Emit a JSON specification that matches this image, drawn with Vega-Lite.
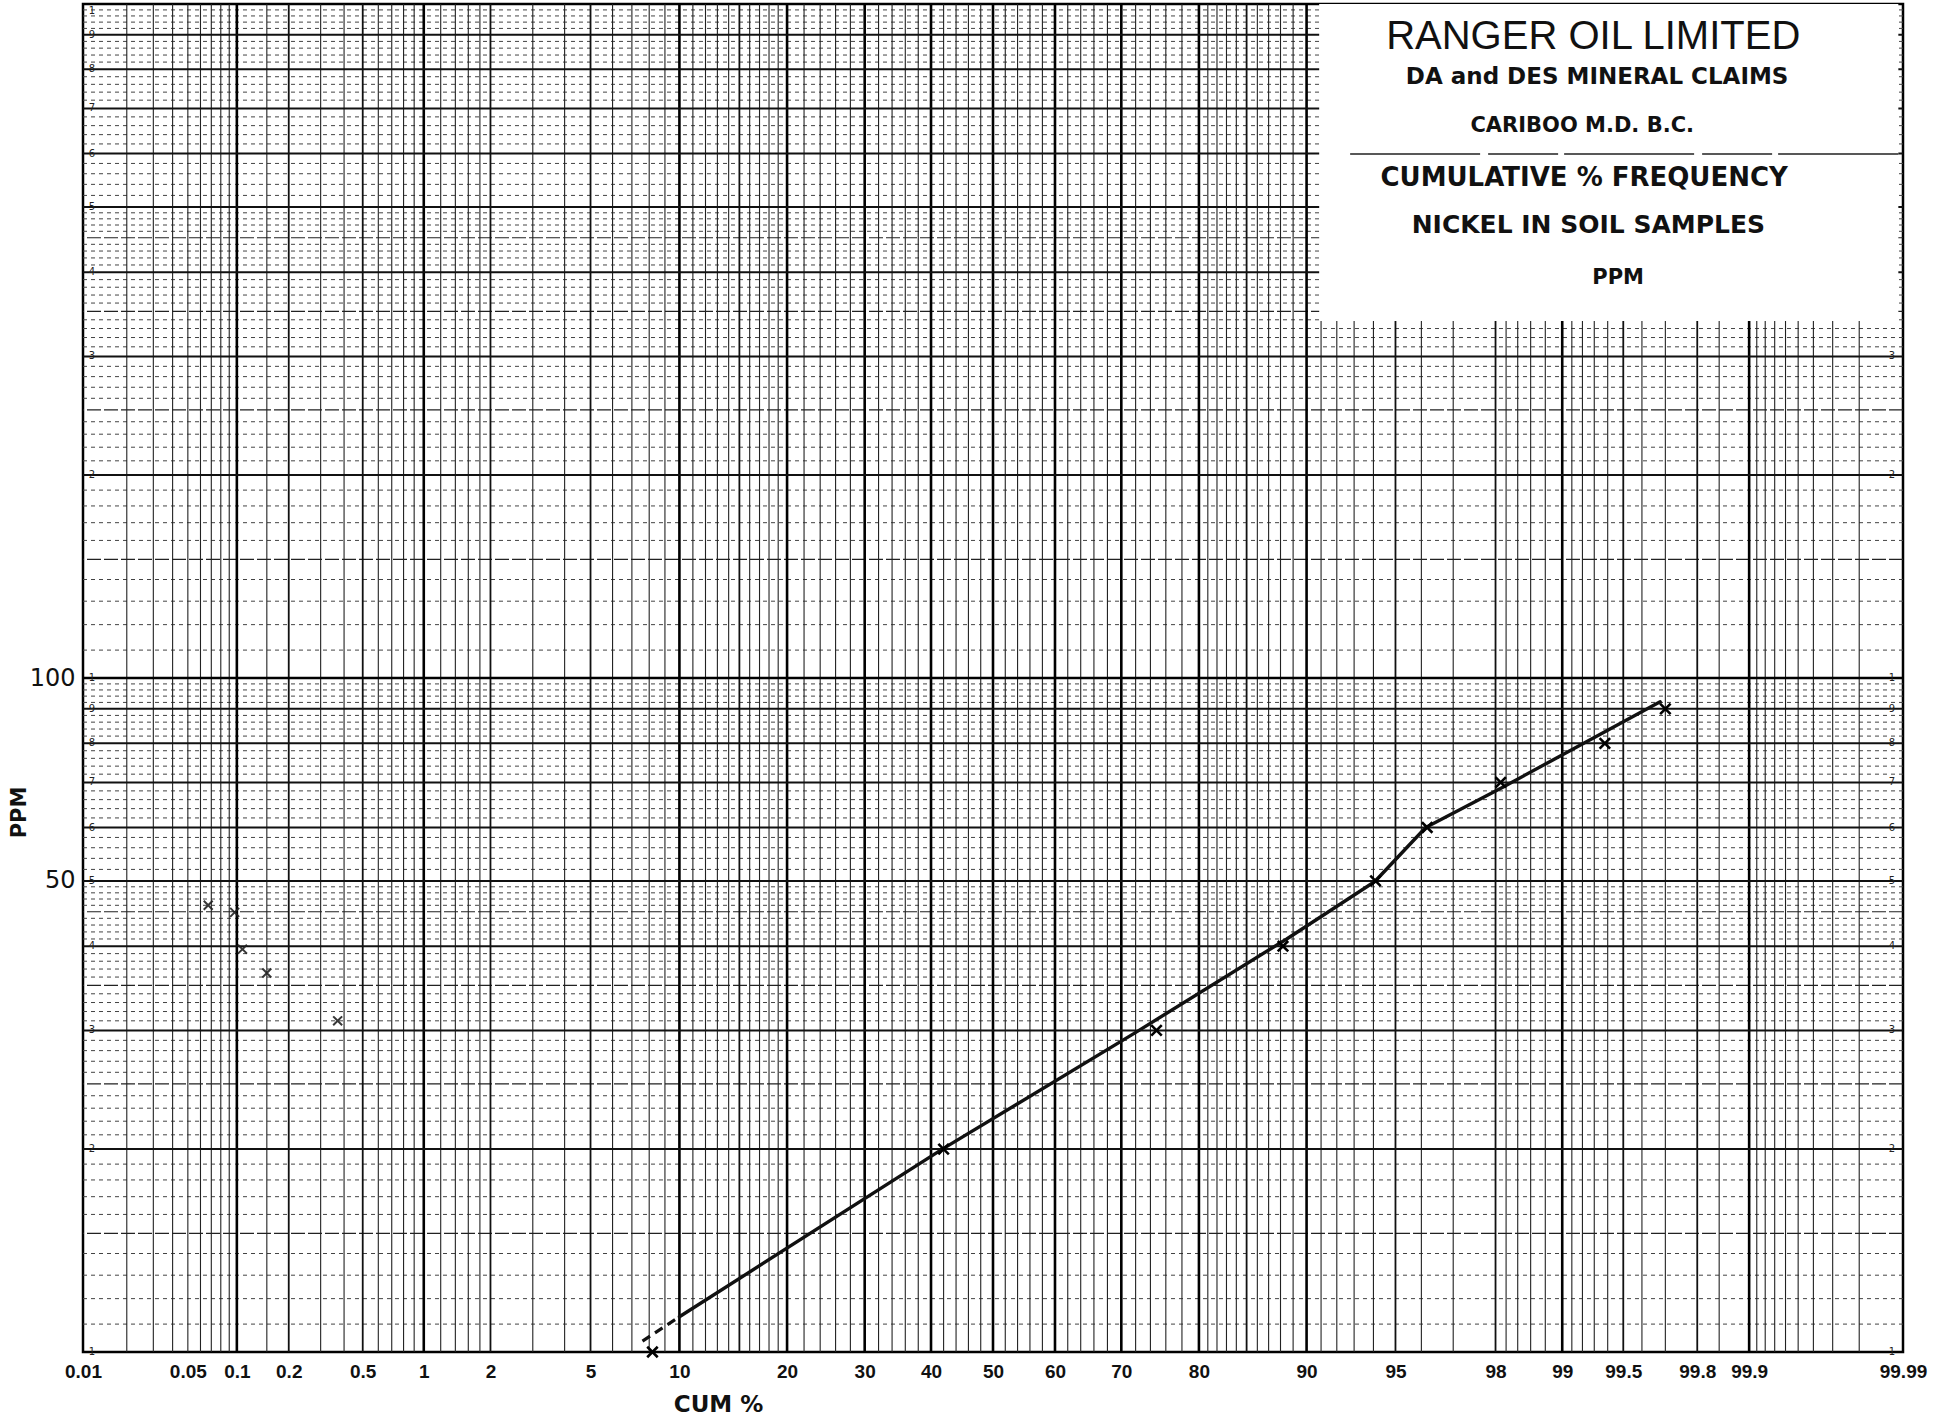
{
  "$schema": "https://vega.github.io/schema/vega-lite/v6.json",
  "width": 1820,
  "height": 1348,
  "autosize": {"type": "none"},
  "padding": {"left": 83, "top": 4, "right": 48, "bottom": 63},
  "background": "white",
  "config": {
    "view": {"stroke": "black", "strokeWidth": 2.5},
    "axis": {"grid": false, "ticks": false, "domain": false}
  },
  "resolve": {"axis": {"x": "independent", "y": "independent"}},
  "datasets": {
    "vMajor": [{"p":0.1},{"p":1},{"p":10},{"p":20},{"p":30},{"p":40},{"p":50},{"p":60},{"p":70},{"p":80},{"p":90},{"p":99},{"p":99.9}],
    "vMid": [{"p":0.2},{"p":0.5},{"p":2},{"p":5},{"p":15},{"p":85},{"p":95},{"p":98},{"p":99.5},{"p":99.8}],
    "vMinor": [{"p":0.02},{"p":0.03},{"p":0.04},{"p":0.05},{"p":0.06},{"p":0.07},{"p":0.08},{"p":0.09},{"p":0.15},{"p":0.3},{"p":0.4},{"p":0.6},{"p":0.7},{"p":0.8},{"p":0.9},{"p":1.2},{"p":1.4},{"p":1.6},{"p":1.8},{"p":3},{"p":4},{"p":6},{"p":7},{"p":8},{"p":9},{"p":11},{"p":12},{"p":13},{"p":14},{"p":16},{"p":17},{"p":18},{"p":19},{"p":22},{"p":24},{"p":26},{"p":28},{"p":32},{"p":34},{"p":36},{"p":38},{"p":42},{"p":44},{"p":46},{"p":48},{"p":52},{"p":54},{"p":56},{"p":58},{"p":62},{"p":64},{"p":66},{"p":68},{"p":72},{"p":74},{"p":76},{"p":78},{"p":81},{"p":82},{"p":83},{"p":84},{"p":86},{"p":87},{"p":88},{"p":89},{"p":91},{"p":92},{"p":93},{"p":94},{"p":96},{"p":97},{"p":98.2},{"p":98.4},{"p":98.6},{"p":98.8},{"p":99.1},{"p":99.2},{"p":99.3},{"p":99.4},{"p":99.6},{"p":99.7},{"p":99.85},{"p":99.91},{"p":99.92},{"p":99.93},{"p":99.94},{"p":99.95},{"p":99.96},{"p":99.97},{"p":99.98}],
    "hDecade": [{"ppm":100}],
    "hInteger": [{"ppm":20},{"ppm":30},{"ppm":40},{"ppm":50},{"ppm":60},{"ppm":70},{"ppm":80},{"ppm":90},{"ppm":200},{"ppm":300},{"ppm":400},{"ppm":500},{"ppm":600},{"ppm":700},{"ppm":800},{"ppm":900}],
    "hMid": [{"ppm":15},{"ppm":25},{"ppm":35},{"ppm":45},{"ppm":150},{"ppm":250},{"ppm":350},{"ppm":450}],
    "hMinor": [{"ppm":11},{"ppm":12},{"ppm":13},{"ppm":14},{"ppm":16},{"ppm":17},{"ppm":18},{"ppm":19},{"ppm":21},{"ppm":22},{"ppm":23},{"ppm":24},{"ppm":26},{"ppm":27},{"ppm":28},{"ppm":29},{"ppm":31},{"ppm":32},{"ppm":33},{"ppm":34},{"ppm":36},{"ppm":37},{"ppm":38},{"ppm":39},{"ppm":41},{"ppm":42},{"ppm":43},{"ppm":44},{"ppm":46},{"ppm":47},{"ppm":48},{"ppm":49},{"ppm":52},{"ppm":54},{"ppm":56},{"ppm":58},{"ppm":62},{"ppm":64},{"ppm":66},{"ppm":68},{"ppm":72},{"ppm":74},{"ppm":76},{"ppm":78},{"ppm":82},{"ppm":84},{"ppm":86},{"ppm":88},{"ppm":92},{"ppm":94},{"ppm":96},{"ppm":98},{"ppm":110},{"ppm":120},{"ppm":130},{"ppm":140},{"ppm":160},{"ppm":170},{"ppm":180},{"ppm":190},{"ppm":210},{"ppm":220},{"ppm":230},{"ppm":240},{"ppm":260},{"ppm":270},{"ppm":280},{"ppm":290},{"ppm":310},{"ppm":320},{"ppm":330},{"ppm":340},{"ppm":360},{"ppm":370},{"ppm":380},{"ppm":390},{"ppm":410},{"ppm":420},{"ppm":430},{"ppm":440},{"ppm":460},{"ppm":470},{"ppm":480},{"ppm":490},{"ppm":520},{"ppm":540},{"ppm":560},{"ppm":580},{"ppm":620},{"ppm":640},{"ppm":660},{"ppm":680},{"ppm":720},{"ppm":740},{"ppm":760},{"ppm":780},{"ppm":820},{"ppm":840},{"ppm":860},{"ppm":880},{"ppm":920},{"ppm":940},{"ppm":960},{"ppm":980}],
    "digits": [{"ppm":10,"d":"1"},{"ppm":20,"d":"2"},{"ppm":30,"d":"3"},{"ppm":40,"d":"4"},{"ppm":50,"d":"5"},{"ppm":60,"d":"6"},{"ppm":70,"d":"7"},{"ppm":80,"d":"8"},{"ppm":90,"d":"9"},{"ppm":100,"d":"1"},{"ppm":200,"d":"2"},{"ppm":300,"d":"3"},{"ppm":400,"d":"4"},{"ppm":500,"d":"5"},{"ppm":600,"d":"6"},{"ppm":700,"d":"7"},{"ppm":800,"d":"8"},{"ppm":900,"d":"9"}],
    "topDigit": [{"ppm":1000,"d":"1"}],
    "points": [{"p":8.2,"ppm":10},{"p":42,"ppm":20},{"p":74.8,"ppm":30},{"p":88.2,"ppm":40},{"p":94.1,"ppm":50},{"p":96.2,"ppm":60},{"p":98.1,"ppm":70},{"p":99.38,"ppm":80},{"p":99.7,"ppm":90}],
    "stray": [{"p":0.067,"ppm":46},{"p":0.097,"ppm":44.9},{"p":0.108,"ppm":39.6},{"p":0.15,"ppm":36.5},{"p":0.37,"ppm":31}],
    "fit": [{"p":10,"ppm":11.28},{"p":41.8,"ppm":20},{"p":71.8,"ppm":29.7},{"p":88.5,"ppm":41},{"p":94.07,"ppm":49.9},{"p":96.15,"ppm":60},{"p":98.13,"ppm":68.8},{"p":99.68,"ppm":92.2}],
    "fitStart": [{"p":7.6,"ppm":10.38},{"p":10,"ppm":11.28}]
  },
  "layer": [
    {
      "data": {"name": "points"},
      "transform": [{"calculate": "quantileNormal(datum.p/100)", "as": "z"}],
      "mark": {"type": "point", "opacity": 0},
      "encoding": {
        "x": {"field": "z", "type": "quantitative",
          "scale": {"domain": [-3.719016, 3.719016], "nice": false, "zero": false},
          "axis": {
            "values": [-3.719, -3.2905, -3.0902, -2.8782, -2.5758, -2.3263, -2.0537, -1.6449, -1.2816, -0.8416, -0.5244, -0.2533, 0, 0.2533, 0.5244, 0.8416, 1.2816, 1.6449, 2.0537, 2.3263, 2.5758, 2.8782, 3.0902, 3.719],
            "labelExpr": "toString(round(cumulativeNormal(datum.value)*10000)/100)",
            "labelFont": "Liberation Sans", "labelFontWeight": "bold", "labelFontSize": 19, "labelColor": "#111",
            "labelBaseline": "top", "labelPadding": 10, "labelAlign": "center",
            "labelFlush": false, "labelOverlap": false, "labelBound": false,
            "title": "CUM %", "titleFont": "DejaVu Sans", "titleFontWeight": "bold", "titleFontSize": 23, "titleColor": "#111",
            "titleX": 635, "titleY": 59, "titleBaseline": "alphabetic", "titleAlign": "center"
          }
        },
        "y": {"field": "ppm", "type": "quantitative",
          "scale": {"type": "log", "domain": [10, 1000], "nice": false},
          "axis": {
            "values": [50, 100], "format": "d",
            "labelFont": "DejaVu Sans", "labelFontSize": 24, "labelColor": "#111", "labelPadding": 8,
            "title": "PPM", "titleFont": "DejaVu Sans", "titleFontWeight": "bold", "titleFontSize": 21, "titleColor": "#111",
            "titleAngle": -90, "titleX": -64, "titleY": 808, "titleAlign": "center", "titleBaseline": "middle"
          }
        }
      }
    },
    {
      "data": {"name": "hMinor"},
      "mark": {"type": "rule", "color": "#444", "strokeWidth": 1, "strokeDash": [4, 4]},
      "encoding": {"y": {"field": "ppm", "type": "quantitative", "scale": {"type": "log", "domain": [10, 1000], "nice": false}, "axis": null}}
    },
    {
      "data": {"name": "hMid"},
      "mark": {"type": "rule", "color": "#222", "strokeWidth": 1.2, "strokeDash": [14, 3]},
      "encoding": {"y": {"field": "ppm", "type": "quantitative", "scale": {"type": "log", "domain": [10, 1000], "nice": false}, "axis": null}}
    },
    {
      "data": {"name": "vMinor"},
      "transform": [{"calculate": "quantileNormal(datum.p/100)", "as": "z"}],
      "mark": {"type": "rule", "color": "#222", "strokeWidth": 1.1},
      "encoding": {"x": {"field": "z", "type": "quantitative", "scale": {"domain": [-3.719016, 3.719016], "nice": false, "zero": false}, "axis": null}}
    },
    {
      "data": {"name": "vMid"},
      "transform": [{"calculate": "quantileNormal(datum.p/100)", "as": "z"}],
      "mark": {"type": "rule", "color": "#111", "strokeWidth": 1.8},
      "encoding": {"x": {"field": "z", "type": "quantitative", "scale": {"domain": [-3.719016, 3.719016], "nice": false, "zero": false}, "axis": null}}
    },
    {
      "data": {"name": "vMajor"},
      "transform": [{"calculate": "quantileNormal(datum.p/100)", "as": "z"}],
      "mark": {"type": "rule", "color": "#000", "strokeWidth": 2.6},
      "encoding": {"x": {"field": "z", "type": "quantitative", "scale": {"domain": [-3.719016, 3.719016], "nice": false, "zero": false}, "axis": null}}
    },
    {
      "data": {"name": "hInteger"},
      "mark": {"type": "rule", "color": "#111", "strokeWidth": 2},
      "encoding": {"y": {"field": "ppm", "type": "quantitative", "scale": {"type": "log", "domain": [10, 1000], "nice": false}, "axis": null}}
    },
    {
      "data": {"name": "hDecade"},
      "mark": {"type": "rule", "color": "#000", "strokeWidth": 2.6},
      "encoding": {"y": {"field": "ppm", "type": "quantitative", "scale": {"type": "log", "domain": [10, 1000], "nice": false}, "axis": null}}
    },
    {
      "data": {"name": "digits"},
      "mark": {"type": "text", "font": "DejaVu Sans", "fontSize": 10, "color": "#222", "dx": 9, "baseline": "middle", "align": "center"},
      "encoding": {
        "x": {"datum": -3.719016, "type": "quantitative", "scale": {"domain": [-3.719016, 3.719016], "nice": false, "zero": false}, "axis": null},
        "y": {"field": "ppm", "type": "quantitative", "scale": {"type": "log", "domain": [10, 1000], "nice": false}, "axis": null},
        "text": {"field": "d"}
      }
    },
    {
      "data": {"name": "topDigit"},
      "mark": {"type": "text", "font": "DejaVu Sans", "fontSize": 10, "color": "#222", "dx": 9, "dy": 2, "baseline": "top", "align": "center"},
      "encoding": {
        "x": {"datum": -3.719016, "type": "quantitative", "scale": {"domain": [-3.719016, 3.719016], "nice": false, "zero": false}, "axis": null},
        "y": {"field": "ppm", "type": "quantitative", "scale": {"type": "log", "domain": [10, 1000], "nice": false}, "axis": null},
        "text": {"field": "d"}
      }
    },
    {
      "data": {"name": "digits"},
      "transform": [{"filter": "datum.ppm < 330"}],
      "mark": {"type": "text", "font": "DejaVu Sans", "fontSize": 10, "color": "#222", "dx": -11, "baseline": "middle", "align": "center"},
      "encoding": {
        "x": {"datum": 3.719016, "type": "quantitative", "scale": {"domain": [-3.719016, 3.719016], "nice": false, "zero": false}, "axis": null},
        "y": {"field": "ppm", "type": "quantitative", "scale": {"type": "log", "domain": [10, 1000], "nice": false}, "axis": null},
        "text": {"field": "d"}
      }
    },
    {
      "data": {"values": [{"t": "box"}]},
      "mark": {"type": "rect", "color": "white"},
      "encoding": {
        "x": {"datum": 1.333, "type": "quantitative", "scale": {"domain": [-3.719016, 3.719016], "nice": false, "zero": false}, "axis": null},
        "x2": {"datum": 3.70},
        "y": {"datum": 1000, "type": "quantitative", "scale": {"type": "log", "domain": [10, 1000], "nice": false}, "axis": null},
        "y2": {"datum": 338.6}
      }
    },
    {
      "data": {"values": [{"t": "rule"}]},
      "mark": {"type": "rule", "color": "#222", "strokeWidth": 1.6, "strokeDash": [130, 8, 70, 6]},
      "encoding": {
        "x": {"datum": 1.4595, "type": "quantitative", "scale": {"domain": [-3.719016, 3.719016], "nice": false, "zero": false}, "axis": null},
        "x2": {"datum": 3.70},
        "y": {"datum": 599, "type": "quantitative", "scale": {"type": "log", "domain": [10, 1000], "nice": false}, "axis": null}
      }
    },
    {
      "data": {"values": [{"t": "RANGER OIL LIMITED"}]},
      "mark": {"type": "text", "font": "Liberation Sans", "fontSize": 40, "color": "#111", "align": "center", "baseline": "alphabetic"},
      "encoding": {
        "x": {"datum": 2.453, "type": "quantitative", "scale": {"domain": [-3.719016, 3.719016], "nice": false, "zero": false}, "axis": null},
        "y": {"datum": 856.6, "type": "quantitative", "scale": {"type": "log", "domain": [10, 1000], "nice": false}, "axis": null},
        "text": {"field": "t"}
      }
    },
    {
      "data": {"values": [{"t": "DA and DES MINERAL CLAIMS"}]},
      "mark": {"type": "text", "font": "DejaVu Sans", "fontWeight": "bold", "fontSize": 23, "color": "#111", "align": "center", "baseline": "alphabetic"},
      "encoding": {
        "x": {"datum": 2.469, "type": "quantitative", "scale": {"domain": [-3.719016, 3.719016], "nice": false, "zero": false}, "axis": null},
        "y": {"datum": 760.8, "type": "quantitative", "scale": {"type": "log", "domain": [10, 1000], "nice": false}, "axis": null},
        "text": {"field": "t"}
      }
    },
    {
      "data": {"values": [{"t": "CARIBOO M.D. B.C."}]},
      "mark": {"type": "text", "font": "DejaVu Sans", "fontWeight": "bold", "fontSize": 21, "color": "#111", "align": "center", "baseline": "alphabetic"},
      "encoding": {
        "x": {"datum": 2.408, "type": "quantitative", "scale": {"domain": [-3.719016, 3.719016], "nice": false, "zero": false}, "axis": null},
        "y": {"datum": 645.8, "type": "quantitative", "scale": {"type": "log", "domain": [10, 1000], "nice": false}, "axis": null},
        "text": {"field": "t"}
      }
    },
    {
      "data": {"values": [{"t": "CUMULATIVE % FREQUENCY"}]},
      "mark": {"type": "text", "font": "DejaVu Sans", "fontWeight": "bold", "fontSize": 26, "color": "#111", "align": "center", "baseline": "alphabetic"},
      "encoding": {
        "x": {"datum": 2.416, "type": "quantitative", "scale": {"domain": [-3.719016, 3.719016], "nice": false, "zero": false}, "axis": null},
        "y": {"datum": 537, "type": "quantitative", "scale": {"type": "log", "domain": [10, 1000], "nice": false}, "axis": null},
        "text": {"field": "t"}
      }
    },
    {
      "data": {"values": [{"t": "NICKEL  IN SOIL SAMPLES"}]},
      "mark": {"type": "text", "font": "DejaVu Sans", "fontWeight": "bold", "fontSize": 25, "color": "#111", "align": "center", "baseline": "alphabetic"},
      "encoding": {
        "x": {"datum": 2.433, "type": "quantitative", "scale": {"domain": [-3.719016, 3.719016], "nice": false, "zero": false}, "axis": null},
        "y": {"datum": 457.3, "type": "quantitative", "scale": {"type": "log", "domain": [10, 1000], "nice": false}, "axis": null},
        "text": {"field": "t"}
      }
    },
    {
      "data": {"values": [{"t": "PPM"}]},
      "mark": {"type": "text", "font": "DejaVu Sans", "fontWeight": "bold", "fontSize": 21, "color": "#111", "align": "center", "baseline": "alphabetic"},
      "encoding": {
        "x": {"datum": 2.555, "type": "quantitative", "scale": {"domain": [-3.719016, 3.719016], "nice": false, "zero": false}, "axis": null},
        "y": {"datum": 384.2, "type": "quantitative", "scale": {"type": "log", "domain": [10, 1000], "nice": false}, "axis": null},
        "text": {"field": "t"}
      }
    },
    {
      "data": {"name": "fitStart"},
      "transform": [{"calculate": "quantileNormal(datum.p/100)", "as": "z"}],
      "mark": {"type": "line", "color": "#111", "strokeWidth": 3.2, "strokeDash": [9, 6]},
      "encoding": {
        "x": {"field": "z", "type": "quantitative", "scale": {"domain": [-3.719016, 3.719016], "nice": false, "zero": false}, "axis": null},
        "y": {"field": "ppm", "type": "quantitative", "scale": {"type": "log", "domain": [10, 1000], "nice": false}, "axis": null}
      }
    },
    {
      "data": {"name": "fit"},
      "transform": [{"calculate": "quantileNormal(datum.p/100)", "as": "z"}],
      "mark": {"type": "line", "color": "#111", "strokeWidth": 3.4, "strokeCap": "round", "strokeJoin": "round"},
      "encoding": {
        "x": {"field": "z", "type": "quantitative", "scale": {"domain": [-3.719016, 3.719016], "nice": false, "zero": false}, "axis": null},
        "y": {"field": "ppm", "type": "quantitative", "scale": {"type": "log", "domain": [10, 1000], "nice": false}, "axis": null}
      }
    },
    {
      "data": {"name": "stray"},
      "transform": [{"calculate": "quantileNormal(datum.p/100)", "as": "z"}],
      "mark": {"type": "point", "shape": "M -1 -1 L 1 1 M -1 1 L 1 -1", "filled": false, "color": "#222", "strokeWidth": 2, "size": 80, "opacity": 0.9},
      "encoding": {
        "x": {"field": "z", "type": "quantitative", "scale": {"domain": [-3.719016, 3.719016], "nice": false, "zero": false}, "axis": null},
        "y": {"field": "ppm", "type": "quantitative", "scale": {"type": "log", "domain": [10, 1000], "nice": false}, "axis": null}
      }
    },
    {
      "data": {"name": "points"},
      "transform": [{"calculate": "quantileNormal(datum.p/100)", "as": "z"}],
      "mark": {"type": "point", "shape": "M -1 -1 L 1 1 M -1 1 L 1 -1", "filled": false, "color": "#000", "strokeWidth": 2.6, "size": 110, "opacity": 1},
      "encoding": {
        "x": {"field": "z", "type": "quantitative", "scale": {"domain": [-3.719016, 3.719016], "nice": false, "zero": false}, "axis": null},
        "y": {"field": "ppm", "type": "quantitative", "scale": {"type": "log", "domain": [10, 1000], "nice": false}, "axis": null}
      }
    }
  ]
}
